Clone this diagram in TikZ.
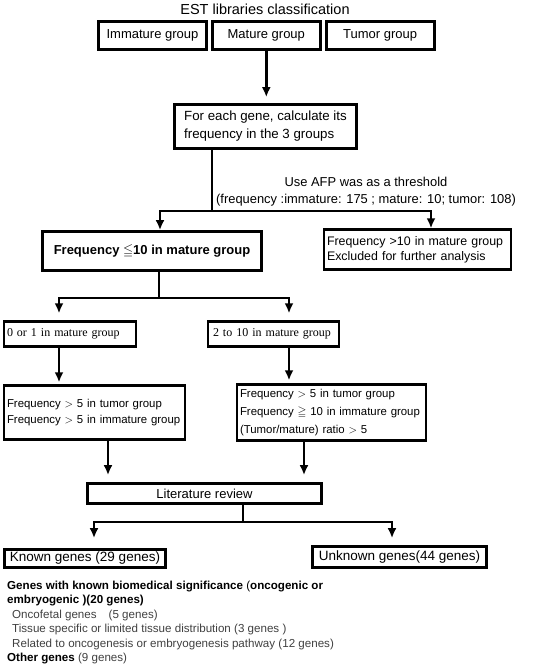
\documentclass[tikz,border=0pt]{standalone}
\usepackage{amsmath,amssymb}
\usepackage{fontspec}
\setmainfont{Liberation Sans}
\newfontfamily\timesfont{Liberation Serif}
\usetikzlibrary{positioning,chains,arrows.meta}

\begin{document}
\begin{tikzpicture}[x=1pt,y=-1pt,
	box/.style={draw, line width=2.8pt, inner xsep=4pt, inner ysep=2pt},
	grp/.style={box, minimum width=108pt, minimum height=28pt,
		font=\fontsize{13}{15}\selectfont, on chain},
	note/.style={box, line width=2.4pt, align=left, inner xsep=3pt},
	link/.style={line width=2.8pt},
	arr/.style={link, -{Latex[length=10pt,width=9pt]}},
	start chain=going right, node distance=3pt
	]
	\useasboundingbox (0,0) rectangle (548,665);
	\node[font=\fontsize{14.5}{16}\selectfont] (ttl) at (265,9) {EST libraries classification};
	\node[grp] (imm) at (152.5,35.5) {Immature group};
	\node[grp] (mat) {Mature group};
	\node[grp] (tum) {Tumor group};
	\node[box, align=left, minimum width=182pt, minimum height=44pt,
		font=\fontsize{13.3}{18}\selectfont] (calc) at (265.5,126.5)
		{For each gene, calculate its\\frequency in the 3 groups};
	\draw[arr, shorten >=6pt] (mat.south) -- (mat.south |- calc.north);
	% threshold
	\node[align=center, font=\fontsize{12.9}{17}\selectfont] (afp) at (366,191.5)
		{Use AFP was as a threshold\\(frequency :immature: 175 ; mature: 10; tumor: 108)};
	\node[box, minimum width=219pt, minimum height=39pt,
		font=\bfseries\fontsize{13}{15}\selectfont] (le10) at (152,251)
		{Frequency $\leqq$10 in mature group};
	\node[note, text width=181pt, minimum height=40pt,
		font=\fontsize{12.4}{15}\selectfont] (gt10) at (417.5,249.5)
		{Frequency >10 in mature group\\Excluded for further analysis};
	\coordinate (j1) at (212,211);
	\draw[link] (calc.south -| j1) -- (j1);
	\draw[arr] (j1) -| ([xshift=8pt]le10.north);
	\draw[arr] (j1) -| ([xshift=13.5pt]gt10.north);
	% mature counts
	\node[note, text width=126pt, minimum height=25pt,
		font=\timesfont\fontsize{12}{15}\selectfont] (zero) at (70,334)
		{0 or 1 in mature group};
	\node[note, text width=125pt, minimum height=25pt,
		font=\timesfont\fontsize{12}{15}\selectfont] (two) at (273.5,334)
		{\,2 to 10 in mature group};
	\coordinate (j2) at (159,298);
	\draw[link] (le10.south -| j2) -- (j2);
	\draw[arr, shorten >=7pt] (j2) -| ([xshift=-11pt]zero.north);
	\draw[arr, shorten >=7pt] (j2) -| ([xshift=15.5pt]two.north);
	\node[note, text width=175pt, minimum height=54pt,
		font=\fontsize{11.4}{16}\selectfont] (crit1) at (94.5,412.5)
		{Frequency $>$ 5 in tumor group\\Frequency $>$ 5 in immature group};
	\node[note, text width=183pt, minimum height=56pt,
		font=\fontsize{11.4}{18}\selectfont] (crit2) at (331.5,412.5)
		{Frequency $>$ 5 in tumor group\\Frequency $\geqq$ 10 in immature group\\(Tumor/mature) ratio $>$ 5};
	\draw[arr, shorten >=2pt] ([xshift=-11pt]zero.south) -- ([xshift=-11pt]zero.south |- crit1.north);
	\draw[arr, shorten >=3pt] ([xshift=15.5pt]two.south) -- ([xshift=15.5pt]two.south |- crit2.north);
	% literature
	\node[box, minimum width=234pt, minimum height=20pt,
		font=\fontsize{13}{15}\selectfont] (lit) at (204.5,493.5) {Literature review};
	\draw[arr, shorten >=7pt] ([xshift=13.5pt]crit1.south) -- ([xshift=13.5pt]crit1.south |- lit.north);
	\draw[arr, shorten >=7pt] ([xshift=-27.5pt]crit2.south) -- ([xshift=-27.5pt]crit2.south |- lit.north);
	\node[box, minimum width=161pt, minimum height=18pt,
		font=\fontsize{13.5}{15}\selectfont] (known) at (85,558.5) {Known genes (29 genes)};
	\node[box, minimum width=174pt, minimum height=21pt,
		font=\fontsize{13.5}{15}\selectfont] (unknown) at (399.5,557) {Unknown genes(44 genes)};
	\coordinate (j3) at (243,522);
	\draw[link] (lit.south -| j3) -- (j3);
	\draw[arr, shorten >=10pt] (j3) -| ([xshift=9pt]known.north);
	\draw[arr, shorten >=7pt] (j3) -| ([xshift=-7.5pt]unknown.north);
	% known genes detail
	\node[anchor=north west, align=left, inner sep=0pt,
		font=\fontsize{11.6}{14.5}\selectfont] (lst) at (7,580.5)
		{\textbf{Genes with known biomedical significance} (\textbf{oncogenic or}\\
		\textbf{embryogenic )(20 genes)}\\
		\hspace*{5pt}{\color{black!75}Oncofetal genes\hspace{12pt}(5 genes)}\\
		\hspace*{5pt}{\color{black!75}Tissue specific or limited tissue distribution (3 genes )}\\
		\hspace*{5pt}{\color{black!75}Related to oncogenesis or embryogenesis pathway (12 genes)}\\
		\textbf{Other genes} {\color{black!75}(9 genes)}};
\end{tikzpicture}
\end{document}
